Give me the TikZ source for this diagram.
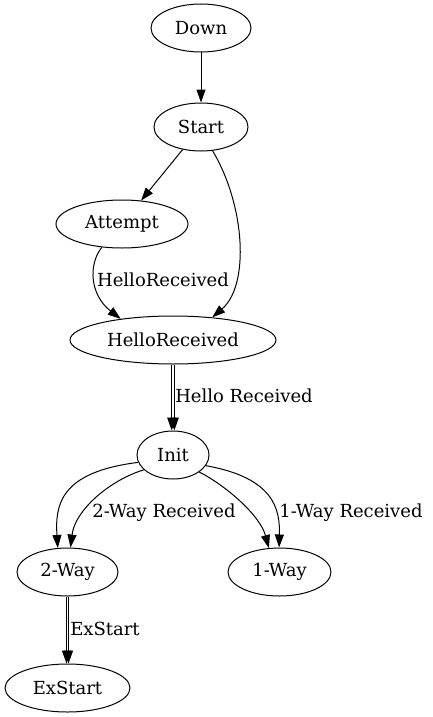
\documentclass[tikz,border=0pt]{standalone}
\usepackage{fontspec}
\setmainfont{DejaVu Serif}
\usetikzlibrary{arrows.meta,shapes.geometric}
\begin{document}
\begin{tikzpicture}[x=1pt,y=-1pt,
  state/.style={ellipse,draw,line width=1pt,inner sep=0pt,minimum height=48pt,font=\fontsize{18}{21}\selectfont},
  edge/.style={draw,line width=1pt,-{Triangle[length=13pt,width=9pt]}},
  lbl/.style={font=\fontsize{18}{21}\selectfont,inner sep=0pt}
]
\useasboundingbox (0,0) rectangle (432,717);
\node[state,minimum width=100pt] (down) at (201,28) {Down};
\node[state,minimum width=94pt] (start) at (201,127) {Start};
\node[state,minimum width=132pt] (attempt) at (122,224) {Attempt};
\node[state,minimum width=206pt] (hello) at (173,340) {HelloReceived};
\node[state,minimum width=72pt] (init) at (173,455) {Init};
\node[state,minimum width=101pt] (twoway) at (67.5,572) {2-Way};
\node[state,minimum width=103pt] (oneway) at (279.5,572) {1-Way};
\node[state,minimum width=125pt] (exstart) at (67.5,688) {ExStart};

\draw[edge] (down) -- (start);
\draw[edge] (start) -- (attempt);
\draw[edge] (start.296) .. controls (245,205) and (250,285) .. (hello.30);
\draw[edge] (attempt.229) .. controls (88,265) and (90,295) .. (hello.158);
\node[lbl] (l0) at (163,280) {HelloReceived};

\draw[edge] ([xshift=-1.3pt]hello.south) -- ([xshift=-1.3pt]init.north);
\draw[edge] ([xshift=1.3pt]hello.south) -- ([xshift=1.3pt]init.north);
\node[lbl] (l1) at (244,396) {Hello Received};

\draw[edge] (init.192) .. controls (60,472) and (55,505) .. (twoway.112);
\draw[edge] (init.207) .. controls (110,480) and (75,510) .. (twoway.83);
\node[lbl] (l2) at (164,513) {2-Way Received};

\draw[edge] (init.327) .. controls (225,485) and (260,515) .. (oneway.114);
\draw[edge] (init.342) .. controls (275,478) and (280,510) .. (oneway.91);
\node[lbl] (l3) at (351,513) {1-Way Received};

\draw[edge] ([xshift=-1pt]twoway.south) -- ([xshift=-1pt]exstart.north);
\draw[edge] ([xshift=1pt]twoway.south) -- ([xshift=1pt]exstart.north);
\node[lbl] (l4) at (105,629) {ExStart};
\end{tikzpicture}
\end{document}
